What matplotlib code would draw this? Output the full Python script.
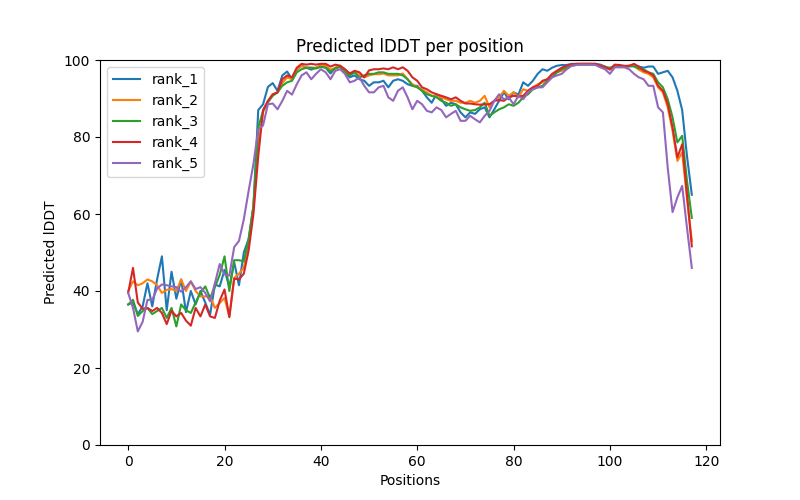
import matplotlib
matplotlib.use("Agg")
import matplotlib.pyplot as plt
import numpy as np

labels = ["rank_1", "rank_2", "rank_3", "rank_4", "rank_5"]

rank_1 = [36.5, 37, 34, 36, 42, 36, 43, 49, 35, 45,
          38, 43, 34.5, 40, 36.5, 40, 37, 33.8, 41.7, 41.2,
          45.5, 41, 47.5, 41.5, 50, 53.5, 62, 87, 88.5, 93,
          94, 92, 96, 97, 95, 97.5, 98.5, 98, 97.5, 98,
          98.5, 98, 96.5, 98, 98.5, 96.8, 95.5, 96, 95, 94.6,
          93.3, 94.2, 94.2, 94.6, 92.9, 94.6, 95, 94.6, 93.7, 93.3,
          93.3, 92, 90.3, 88.9, 91.1, 89.8, 88.1, 88.9, 88.5, 86.4,
          85.1, 86.4, 86, 87.2, 87.7, 85.1, 87.2, 89.4, 91.6, 89.8,
          91.6, 91, 94.2, 93.3, 94.6, 96.4, 97.6, 97.2, 98, 98.5,
          98.7, 98.7, 99, 99, 99, 99, 99, 99, 98.8, 98.3,
          97.5, 98.5, 98.5, 98.3, 98.3, 98.5, 98.3, 98, 98.3, 98.3,
          96.4, 96.8, 97.2, 95.5, 92, 87, 75, 65]

rank_2 = [40, 42.5, 41.5, 42, 43, 42.5, 41.5, 39.5, 40.3, 40.5,
          40, 43, 40, 42.5, 40, 38.6, 38.6, 38.6, 35.6, 36.9,
          38.2, 33.4, 43.4, 44.5, 46, 52, 62, 78, 86.5, 89,
          91, 91.5, 94, 95.5, 95, 97.5, 98.5, 98, 98, 98,
          98.5, 98.5, 97.5, 98, 98.5, 97.5, 96, 97, 96, 95.5,
          96, 96.3, 96.3, 96.5, 96, 96, 96, 96.5, 95, 93.7,
          93, 92.3, 91.6, 90.7, 90.7, 90.3, 89.8, 89.4, 89.4, 88.9,
          88.9, 89.4, 88.9, 89.4, 90.7, 87.7, 89.5, 90.3, 92, 90.7,
          91.6, 90.3, 92.4, 92, 92.9, 93.7, 94.2, 95, 96, 96.8,
          97.2, 97.6, 98.5, 98.7, 99, 99, 99, 98.8, 98.5, 98.2,
          97.6, 98.5, 98.5, 98.3, 98.5, 98.5, 97.5, 96.8, 96.4, 95.5,
          92.9, 91.6, 87.7, 81.6, 73.8, 76, 64, 53]

rank_3 = [36.5, 37.7, 33.5, 34.8, 35.6, 34, 34.8, 35.6, 33, 35.6,
          30.8, 36.5, 35, 34.3, 37, 39.5, 41.2, 38.2, 41, 44.2,
          49, 40, 48, 48, 47.7, 53.4, 62, 82.5, 86.8, 89,
          90.7, 91.6, 93.3, 94.2, 94.6, 96.8, 97.6, 98, 98, 97.8,
          98.2, 98, 97, 97.8, 98.2, 96.8, 96, 96.8, 95.5, 96,
          96.4, 96.4, 96.8, 96.8, 96.4, 96.4, 96.4, 96, 95, 93.3,
          92.9, 92, 91.1, 90.7, 90.3, 89.4, 88.9, 88.1, 88.5, 87.7,
          87.2, 86.8, 87, 87.7, 88.9, 85.5, 86.4, 87.2, 87.7, 88.5,
          88.1, 88.9, 90.3, 91.1, 92.4, 92.9, 93.3, 94.6, 95.5, 96.8,
          97.6, 98, 98.5, 98.8, 98.8, 98.8, 98.8, 98.8, 98.5, 98.2,
          98, 98.3, 98.3, 98.3, 98.5, 98.3, 97.8, 97.6, 96.8, 96.4,
          94.2, 92.9, 89.8, 85.1, 78.6, 80.3, 68.6, 59]

rank_4 = [39.5, 46, 37, 35.4, 35.6, 34.8, 35.6, 34.3, 31.4, 34.9,
          33.4, 34.3, 32.3, 31, 35.6, 33.4, 36.5, 33.4, 33, 37.5,
          40.4, 33.2, 43.2, 43, 44.5, 50.5, 60, 75, 87, 89.4,
          91.1, 91.6, 95, 96, 95.5, 98, 99, 98.8, 99, 98.8,
          99, 99, 98.3, 98.8, 98.5, 97.6, 96.5, 97.2, 96.8, 95.5,
          97.3, 97.6, 97.6, 97.8, 97.6, 98.1, 97.6, 98.1, 97.2, 95.5,
          94.6, 92.9, 92.4, 91.6, 91.1, 90.7, 90.3, 89.8, 90.3, 89.4,
          88.7, 88.7, 88.5, 88.4, 88.5, 88.5, 89.4, 89.6, 89.4, 90.3,
          90.7, 90.5, 90.7, 92, 92.9, 93.3, 94.6, 95, 96.4, 97.2,
          98, 98.5, 98.8, 99, 99, 99, 99, 99, 98.5, 98.1,
          97.6, 98.8, 98.7, 98.5, 98.5, 99, 98.3, 97.2, 96.8, 96,
          93.3, 92, 88.5, 82.5, 74.7, 78.1, 65, 51.6]

rank_5 = [39.5, 35.6, 29.5, 32, 37.7, 37.7, 40.6, 41.7, 41.5, 41.2,
          41, 39.8, 41, 42.5, 40.5, 41, 39.5, 37.3, 42, 47,
          44.3, 44, 51.4, 53, 58.6, 66, 73, 82, 83, 88.5,
          88.7, 87.2, 89.4, 92, 91, 93.7, 96, 96.8, 95, 96.4,
          97.6, 96.8, 95, 97.2, 97.6, 96.4, 94.2, 94.6, 95.5, 93.3,
          91.6, 91.6, 92.9, 93.3, 90.3, 89.4, 92, 92.9, 90.3, 87.2,
          89.4, 88.5, 86.8, 86.4, 87.7, 87, 85.1, 86, 86.8, 84.2,
          84.2, 85.5, 84.6, 83.8, 85.5, 86.8, 89.4, 91.1, 89.8, 90.3,
          88.5, 90.7, 89.8, 91.6, 92.4, 92.9, 92.9, 94.2, 95.5, 96,
          96.4, 97.6, 98.5, 98.7, 98.8, 98.8, 98.8, 98.7, 98.1, 97.6,
          96.4, 98.1, 98.1, 98.1, 97.6, 96.4, 95.5, 95, 93.3, 93.3,
          87.7, 86.4, 72, 60.5, 64.3, 67.3, 56.4, 46]

series = [rank_1, rank_2, rank_3, rank_4, rank_5]

fig, ax = plt.subplots(figsize=(8, 5), dpi=100)
for lab, vals in zip(labels, series):
    ax.plot(np.arange(len(vals)), vals, label=lab)
ax.set_ylim(0, 100)
ax.set_title("Predicted lDDT per position")
ax.set_xlabel("Positions")
ax.set_ylabel("Predicted lDDT")
ax.legend(loc="upper left")
fig.savefig("out.png", dpi=100)
